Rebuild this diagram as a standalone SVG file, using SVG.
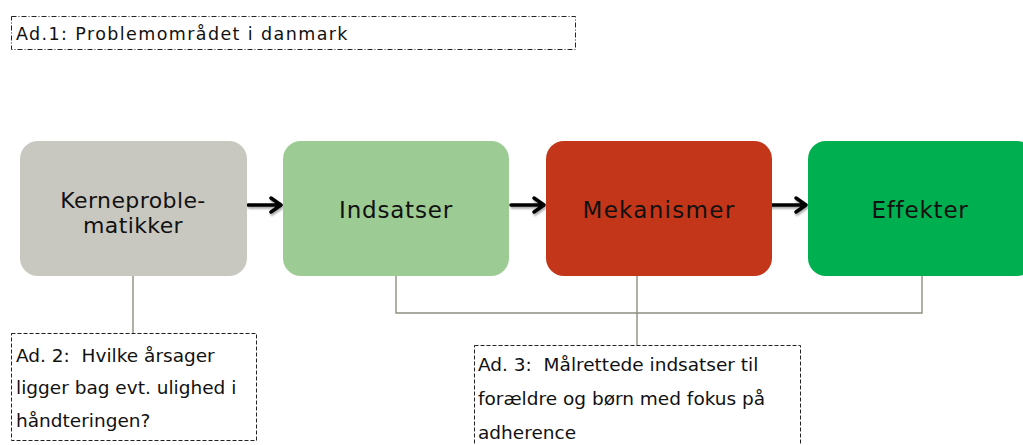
<svg xmlns="http://www.w3.org/2000/svg" width="1023" height="445" viewBox="0 0 1023 445">
  <defs>
    <style>
      .box { stroke: none; }
      .lbl { font-family: "DejaVu Sans", Verdana, sans-serif; font-size: 23px; fill: #111; text-anchor: middle; letter-spacing: 0.8px; }
      .lbl-s { font-size: 22px; letter-spacing: 0.4px; }
      .note { fill: #fff; stroke: #222; stroke-width: 1; stroke-dasharray: 4 2; }
      .note-t { font-family: "DejaVu Sans", Verdana, sans-serif; font-size: 18.5px; fill: #111; white-space: pre; }
      .head-t { font-size: 17.5px; letter-spacing: 1.4px; }
      .link { fill: none; stroke: #8e8d80; stroke-width: 1.4; }
      .arr { fill: none; stroke: #000; stroke-width: 3.5; stroke-linecap: round; stroke-linejoin: round; }
    </style>
    <filter id="sh" x="-20%" y="-50%" width="140%" height="200%">
      <feGaussianBlur in="SourceAlpha" stdDeviation="1.2"/>
      <feOffset dx="1" dy="2" result="b"/>
      <feComponentTransfer><feFuncA type="linear" slope="0.35"/></feComponentTransfer>
      <feMerge><feMergeNode/><feMergeNode in="SourceGraphic"/></feMerge>
    </filter>
  </defs>

  <!-- heading note -->
  <g id="ad1">
    <rect x="11.5" y="16.5" width="564" height="33" fill="#fff" stroke="#222" stroke-width="1" stroke-dasharray="5 2 1 2"/>
    <text class="note-t head-t" x="16" y="40">Ad.1: Problemområdet i danmark</text>
  </g>

  <!-- connectors -->
  <g id="connectors">
    <path class="link" d="M133 276 V334"/>
    <path class="link" d="M396 276 V313 H922 V276"/>
    <path class="link" d="M637 276 V346"/>
    <g filter="url(#sh)">
      <path class="arr" d="M248 205 H280 M271 198 L281 205 L271 212"/>
      <path class="arr" d="M511 205 H543 M534 198 L544 205 L534 212"/>
      <path class="arr" d="M766 205 H805 M796 198 L806 205 L796 212"/>
    </g>
  </g>

  <g id="kerne">
    <rect class="box" x="20" y="141" width="227" height="135" rx="18" fill="#c9c8c0"/>
    <text class="lbl lbl-s" x="133" y="208">Kerneproble-</text>
    <text class="lbl lbl-s" x="133" y="233">matikker</text>
  </g>
  <g id="indsatser">
    <rect class="box" x="283" y="141" width="226" height="135" rx="18" fill="#9ccb94"/>
    <text class="lbl" x="396" y="218">Indsatser</text>
  </g>
  <g id="mekanismer">
    <rect class="box" x="546" y="141" width="226" height="135" rx="18" fill="#c4361a"/>
    <text class="lbl" x="659" y="218" style="letter-spacing:1.3px">Mekanismer</text>
  </g>
  <g id="effekter">
    <rect class="box" x="808" y="141" width="227" height="135" rx="18" fill="#00af50"/>
    <text class="lbl" x="920" y="218">Effekter</text>
  </g>

  <g id="ad2">
    <rect class="note" x="11.5" y="333.5" width="245" height="107"/>
    <text class="note-t" x="16" y="362" xml:space="preserve">Ad. 2:  Hvilke årsager</text>
    <text class="note-t" x="16" y="394">ligger bag evt. ulighed i</text>
    <text class="note-t" x="16" y="427">håndteringen?</text>
  </g>

  <g id="ad3">
    <rect class="note" x="474.5" y="345.5" width="326" height="110"/>
    <text class="note-t" x="478" y="371" xml:space="preserve">Ad. 3:  Målrettede indsatser til</text>
    <text class="note-t" x="478" y="405">forældre og børn med fokus på</text>
    <text class="note-t" x="478" y="439">adherence</text>
  </g>
</svg>
